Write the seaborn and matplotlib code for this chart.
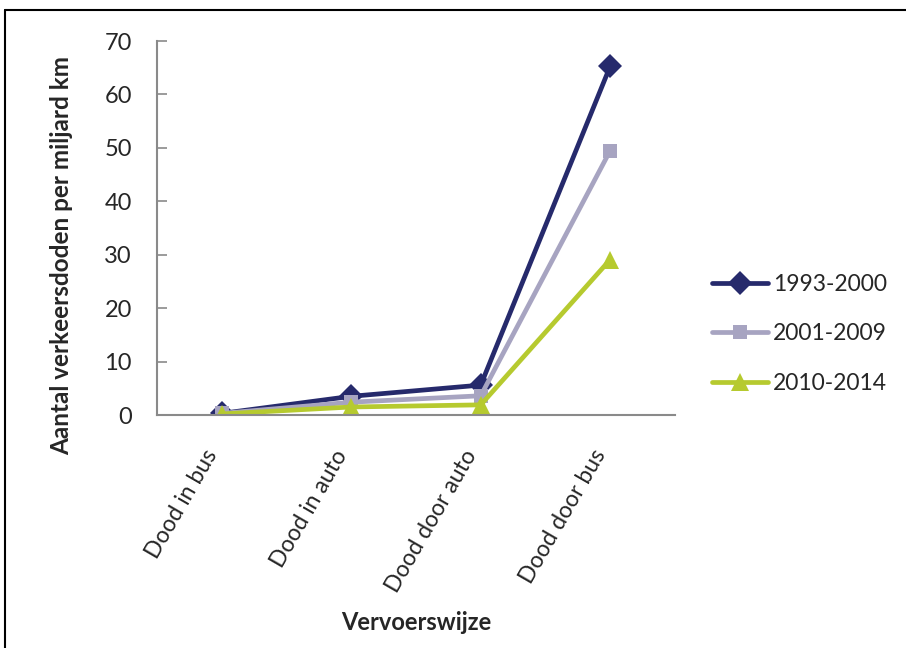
import matplotlib
matplotlib.use("Agg")
import matplotlib.pyplot as plt
from matplotlib.lines import Line2D
import seaborn as sns
import pandas as pd

categories = ["Dood in bus", "Dood in auto", "Dood door auto", "Dood door bus"]
periods = ["1993-2000", "2001-2009", "2010-2014"]
values_1993_2000 = [0.3, 3.5, 5.6, 65.3]
values_2001_2009 = [0.3, 2.4, 3.6, 49.5]
values_2010_2014 = [0.2, 1.5, 1.9, 29.1]
y_ticks = [0, 10, 20, 30, 40, 50, 60, 70]

colors = {"1993-2000": "#262A6C", "2001-2009": "#A7A4C1", "2010-2014": "#B6CA2F"}
markers = {"1993-2000": "D", "2001-2009": "s", "2010-2014": "^"}
msizes = {"1993-2000": 12, "2001-2009": 10.5, "2010-2014": 13.5}

series = {"1993-2000": values_1993_2000,
          "2001-2009": values_2001_2009,
          "2010-2014": values_2010_2014}
rows = []
for p in periods:
    for i, c in enumerate(categories):
        rows.append({"Vervoerswijze": c, "pos": i, "waarde": series[p][i], "periode": p})
df = pd.DataFrame(rows)

sns.set_theme(style="white")
plt.rcParams["font.family"] = ["Lato", "DejaVu Sans"]

fig = plt.figure(figsize=(9.06, 6.48), dpi=100)
ax = fig.add_axes([157 / 906, 1 - 415 / 648, (675 - 157) / 906, (415 - 41) / 648])

for p in periods:
    sub = df[df["periode"] == p]
    sns.lineplot(data=sub, x="pos", y="waarde", ax=ax, color=colors[p],
                 linewidth=3.4, marker=markers[p], markersize=msizes[p],
                 markeredgewidth=0, label=p, sort=False)

ax.set_xlim(-0.5, len(categories) - 0.5)
ax.set_ylim(0, 70)
ax.set_yticks(y_ticks)
ax.set_yticklabels([str(t) for t in y_ticks], fontsize=17)
ax.set_xticks(range(len(categories)))
ax.set_xticklabels(categories, rotation=60, ha="right", va="bottom",
                   rotation_mode="anchor", fontsize=16.5)
ax.tick_params(axis="x", length=0, pad=30)
ax.tick_params(axis="y", length=7, width=1.2, color="#8A8A8A", direction="in",
               left=True, pad=18)
for s in ["top", "right"]:
    ax.spines[s].set_visible(False)
for s in ["left", "bottom"]:
    ax.spines[s].set_color("#8A8A8A")
    ax.spines[s].set_linewidth(1.5)
ax.set_xlabel("")
ax.set_ylabel("")

fig.text(416 / 906, 1 - 622 / 648, "Vervoerswijze", ha="center", va="center",
         fontsize=17, fontweight="bold")
fig.text(62 / 906, 1 - 255 / 648, "Aantal verkeersdoden per miljard km",
         ha="center", va="center", rotation=90, fontsize=17.5, fontweight="bold")

ax.legend(loc="center left", bbox_to_anchor=(712 / 906, 1 - 334 / 648),
          bbox_transform=fig.transFigure, frameon=False, fontsize=16.5,
          handlelength=2.45, handletextpad=0.2, labelspacing=1.23,
          borderaxespad=0, borderpad=0)

# outer frame (left and top edges)
fig.add_artist(Line2D([5 / 906, 5 / 906], [0, 1 - 10 / 648],
                      transform=fig.transFigure, color="black", linewidth=1.5))
fig.add_artist(Line2D([5 / 906, 1], [1 - 10 / 648, 1 - 10 / 648],
                      transform=fig.transFigure, color="black", linewidth=1.5))

fig.savefig("out.png", dpi=100)
